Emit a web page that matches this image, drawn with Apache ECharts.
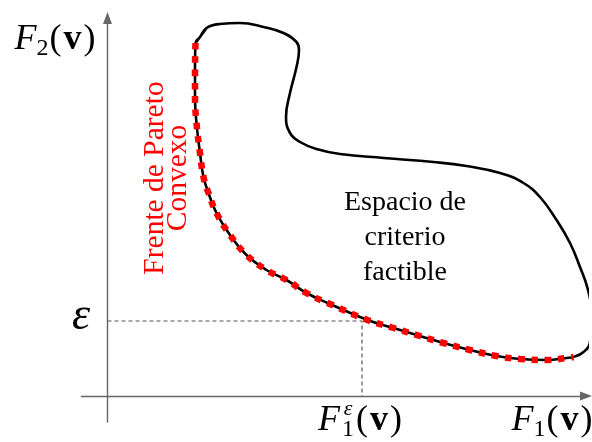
<!DOCTYPE html>
<html>
<head>
<meta charset="utf-8">
<script src="https://cdn.jsdelivr.net/npm/echarts@6/dist/echarts.min.js"></script>
<style>html,body{margin:0;padding:0;background:#fff;}#c{width:592px;height:442px;}</style>
</head>
<body>
<div id="c"></div>
<script>
// Boundary of the feasible criterion space (closed curve), traced clockwise
const boundaryX = [88, 92.5, 99, 112.5, 132.5, 156, 176, 189, 191.5, 189, 182.5, 178.5, 182.5, 192.5, 209, 232.5, 276, 326, 359, 392.5, 416, 432.5, 449, 462.5, 472.5, 480.5, 484, 482.5, 476, 466,
  459, 439, 412.5, 389, 362.5, 336, 312.5, 286, 260, 222.5, 199, 179, 159, 139, 122.5, 109, 101, 96, 92.5, 89, 87.5, 87.5, 88, 92.5, 99];
const boundaryY = [353, 359, 368, 372, 373, 369, 363, 354, 346, 329, 303, 279, 263, 254, 247, 242, 238, 234, 230, 223, 213, 199, 176, 153, 129, 106, 83, 54, 44, 39,
  38, 36, 37, 40, 46, 53, 60, 68, 76, 92, 103, 116, 126, 141, 161, 183, 203, 219, 243, 273, 299, 326, 353, 359, 368];
// Convex Pareto front (red dotted)
const paretoX = [88, 87.5, 87.5, 89, 92.5, 96, 101, 109, 122.5, 139, 159, 179, 199, 222.5, 260, 286, 312.5, 336, 362.5, 389, 412.5, 439, 459, 466];
const paretoY = [353, 326, 299, 273, 243, 219, 203, 183, 161, 141, 126, 116, 103, 92, 76, 68, 60, 53, 46, 40, 37, 36, 38, 39];
// epsilon constraint level and corresponding F1
const epsLevel = 75;
const f1Eps = 254.5;
// Text labels
const regionLabel = ['Espacio de', 'criterio', 'factible'];
const frontLabel = ['Frente de Pareto', 'Convexo'];

const zip = (xs, ys) => xs.map((x, i) => [x, ys[i]]);
const SERIF = '"Liberation Serif", "DejaVu Serif", serif';
const AX = '#666666';

const chart = echarts.init(document.getElementById('c'), null, {renderer: 'canvas'});

function rt(size, extra) {
  return Object.assign({fontFamily: SERIF, fontSize: size, lineHeight: 42, fill: '#000', color: '#000'}, extra || {});
}
const richMain = {
  f: rt(36, {fontStyle: 'italic'}),
  s: rt(24, {lineHeight: 26, verticalAlign: 'bottom', padding: [0, 1, 0, 0]}),
  p: rt(36),
  b: rt(36, {fontWeight: 'bold', padding: [0, 2, 0, 2]})
};

chart.setOption({
  animation: false,
  grid: {left: 81.5, right: 6, top: 18, bottom: 20},
  xAxis: {
    type: 'value', min: -26, max: 478.5,
    axisLine: {show: true, onZero: true, symbol: ['none', 'triangle'], symbolSize: [9, 12], lineStyle: {color: AX, width: 1.4}},
    axisTick: {show: false}, axisLabel: {show: false}, splitLine: {show: false}
  },
  yAxis: {
    type: 'value', min: -26, max: 378,
    axisLine: {show: true, onZero: true, symbol: ['none', 'triangle'], symbolSize: [9, 12], lineStyle: {color: AX, width: 1.4}},
    axisTick: {show: false}, axisLabel: {show: false}, splitLine: {show: false}
  },
  series: [
    {
      type: 'line', data: [[0, epsLevel], [f1Eps, epsLevel], [f1Eps, 0]],
      showSymbol: false, symbol: 'none', silent: true,
      lineStyle: {color: '#555', width: 1.2, type: [4, 3]}
    },
    {
      type: 'line', data: zip(boundaryX, boundaryY), smooth: 0.45, clip: false,
      showSymbol: false, symbol: 'none',
      lineStyle: {color: '#000', width: 2.6}
    },
    {
      type: 'line', data: zip(paretoX, paretoY), smooth: 0.45, clip: false,
      showSymbol: false, symbol: 'none',
      lineStyle: {color: '#ff0000', width: 6.5, type: [6.5, 6.8], cap: 'butt'}
    }
  ],
  graphic: [
    {type: 'text', x: 55, y: 40, style: {text: '{f|F}{s|2}{p|(}{b|v}{p|)}', align: 'center', verticalAlign: 'middle', rich: richMain}},
    {type: 'text', x: 552, y: 421, style: {text: '{f|F}{s|1}{p|(}{b|v}{p|)}', align: 'center', verticalAlign: 'middle', rich: richMain}},
    {type: 'text', x: 318, y: 421, style: {text: 'F', font: 'italic 36px ' + SERIF, fill: '#000', align: 'left', verticalAlign: 'middle'}},
    {type: 'text', x: 348, y: 409, style: {text: 'ε', font: 'italic 22px ' + SERIF, fill: '#000', align: 'center', verticalAlign: 'middle'}},
    {type: 'text', x: 348, y: 430, style: {text: '1', font: '24px ' + SERIF, fill: '#000', align: 'center', verticalAlign: 'middle'}},
    {type: 'text', x: 356, y: 421, style: {text: '{p|(}{b|v}{p|)}', align: 'left', verticalAlign: 'middle', rich: richMain}},
    {type: 'text', x: 81, y: 317, style: {text: 'ε', font: 'italic 46px ' + SERIF, fill: '#000', align: 'center', verticalAlign: 'middle'}},
    {type: 'text', x: 405, y: 238, style: {text: regionLabel.join('\n'), font: '28px ' + SERIF, lineHeight: 35, fill: '#000', align: 'center', verticalAlign: 'middle'}},
    {type: 'text', x: 167, y: 178, rotation: Math.PI / 2, style: {text: frontLabel.join('\n'), font: '29.5px ' + SERIF, lineHeight: 23, fill: '#ff0000', align: 'center', verticalAlign: 'middle'}}
  ]
});
</script>
</body>
</html>
